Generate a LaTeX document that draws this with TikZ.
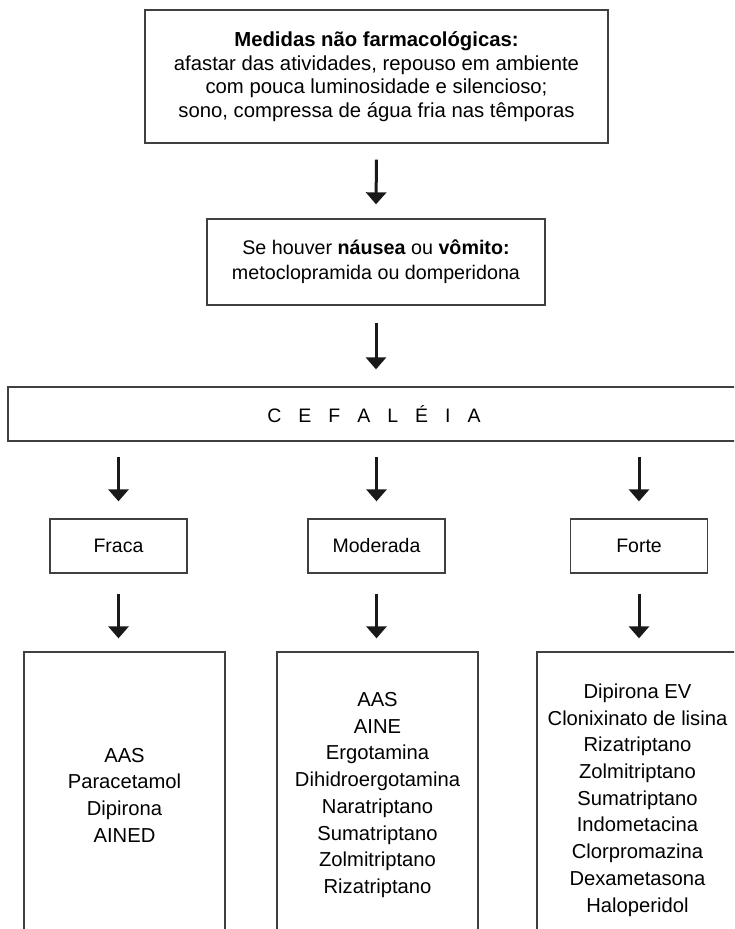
\documentclass[tikz,border=0pt]{standalone}
\usepackage{fontspec}
\setmainfont{Liberation Sans}
\usetikzlibrary{arrows.meta}
\begin{document}
\begin{tikzpicture}[x=1pt,y=-1pt,
  box/.style={draw=black!75, line width=1.3pt, rectangle, inner sep=0pt, align=center, text=black},
  arr/.style={line width=3pt, -{Triangle[width=20pt,length=12pt]}, black!90},
  ttop/.style={font=\fontsize{20.3}{23.5}\selectfont},
  tsec/.style={font=\fontsize{19.7}{25}\selectfont},
  tsmall/.style={font=\fontsize{19.5}{23}\selectfont},
  tlist/.style={font=\fontsize{20.2}{26.7}\selectfont}
]
\useasboundingbox (0,0) rectangle (734,929);
\clip (0,0) rectangle (734,929);
\node[box, ttop, minimum width=463pt, minimum height=133pt] (top) at (376.5,76.5)
  {\textbf{Medidas não farmacológicas:}\\afastar das atividades, repouso em ambiente\\com pouca luminosidade e silencioso;\\sono, compressa de água fria nas têmporas};
\node[box, tsec, minimum width=338pt, minimum height=86pt] (sec) at (376,262)
  {Se houver \textbf{náusea} ou \textbf{vômito:}\\metoclopramida ou domperidona};
\node[box, tsmall, minimum width=732pt, minimum height=54pt] (cef) at (374,414)
  {C\hspace{17pt}E\hspace{17pt}F\hspace{17pt}A\hspace{17pt}L\hspace{17pt}É\hspace{17pt}I\hspace{17pt}A};
\node[box, tsmall, minimum width=137pt, minimum height=54pt] (fraca) at (118.5,546) {Fraca};
\node[box, tsmall, minimum width=137pt, minimum height=54pt] (mod) at (376.5,546) {Moderada};
\node[box, tsmall, minimum width=137pt, minimum height=54pt] (forte) at (639,546) {Forte};
\node[box, tlist, minimum width=201pt, minimum height=286pt] (bfraca) at (124.5,795)
  {AAS\\Paracetamol\\Dipirona\\AINED};
\node[box, tlist, minimum width=201pt, minimum height=286pt] (bmod) at (377.5,795)
  {AAS\\AINE\\Ergotamina\\Dihidroergotamina\\Naratriptano\\Sumatriptano\\Zolmitriptano\\Rizatriptano};
\node[box, tlist, minimum width=201pt, minimum height=296pt] (bforte) at (637.5,800)
  {Dipirona EV\\Clonixinato de lisina\\Rizatriptano\\Zolmitriptano\\Sumatriptano\\Indometacina\\Clorpromazina\\Dexametasona\\Haloperidol};
\draw[arr] ([yshift=-16pt]top.south) -- ([yshift=14pt]sec.north);
\draw[arr] ([yshift=-17pt]sec.south) -- ([yshift=17pt]sec.south |- cef.north);
\draw[arr] ([yshift=-15pt]cef.south -| fraca.north) -- ([yshift=17pt]fraca.north);
\draw[arr] ([yshift=-15pt]cef.south -| mod.north) -- ([yshift=17pt]mod.north);
\draw[arr] ([yshift=-15pt]cef.south -| forte.north) -- ([yshift=17pt]forte.north);
\draw[arr] ([yshift=-20pt]fraca.south) -- ([yshift=13pt]fraca.south |- bfraca.north);
\draw[arr] ([yshift=-20pt]mod.south) -- ([yshift=13pt]mod.south |- bmod.north);
\draw[arr] ([yshift=-20pt]forte.south) -- ([yshift=13pt]forte.south |- bforte.north);
\end{tikzpicture}
\end{document}
